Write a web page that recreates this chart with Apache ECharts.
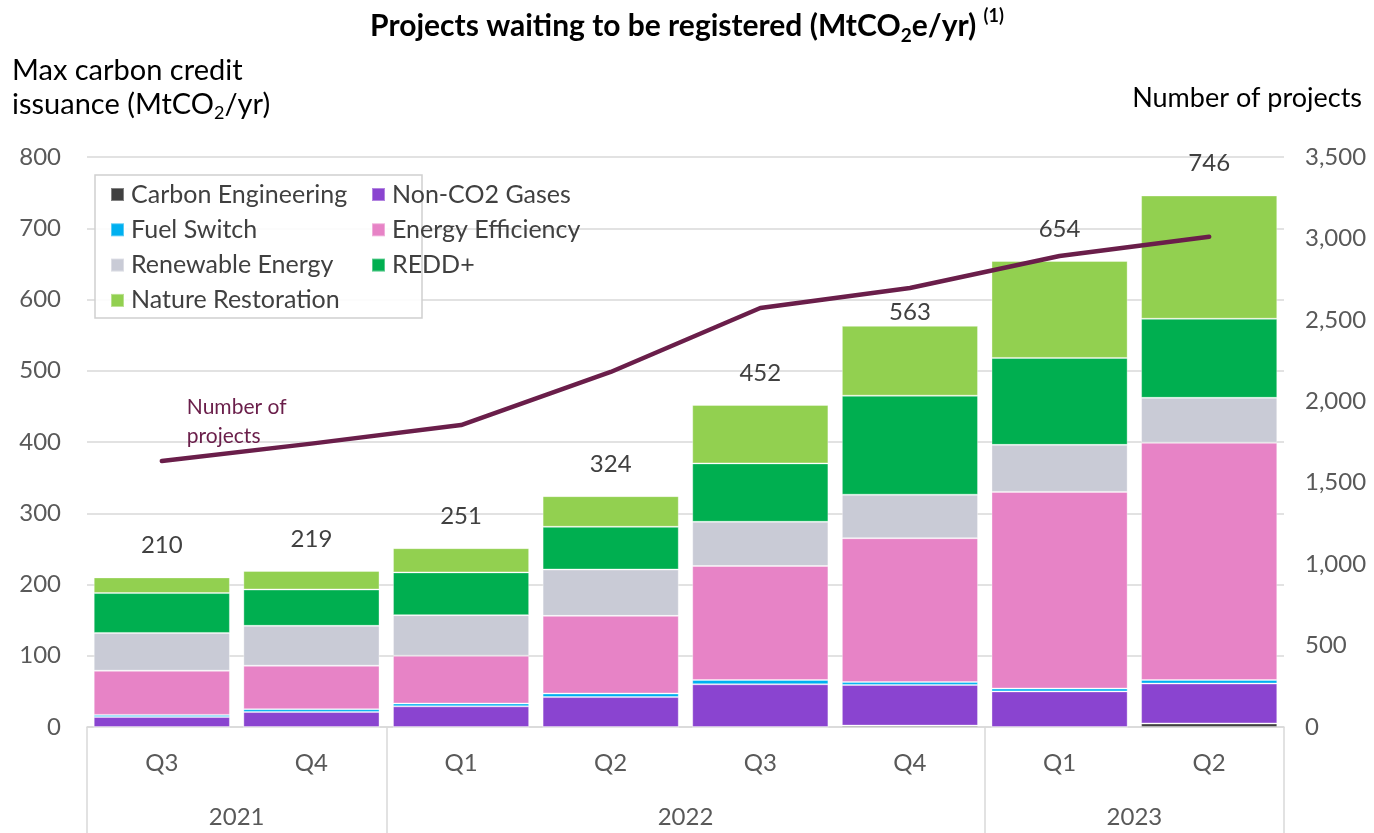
<!DOCTYPE html>
<html>
<head>
<meta charset="utf-8">
<title>Projects waiting to be registered</title>
<script src="https://cdn.jsdelivr.net/npm/echarts@6/dist/echarts.min.js"></script>
<style>
	html, body { margin: 0; padding: 0; background: #fff; }
	#chart { width: 1374px; height: 833px; }
</style>
</head>
<body>
<div id="chart"></div>
<script>
// quarters and years
const quarters = [ 'Q3', 'Q4', 'Q1', 'Q2', 'Q3', 'Q4', 'Q1', 'Q2' ];
const years = [ '2021', '2022', '2023' ];
const yearCenters = [ 1, 4, 7 ];     // middle of each year block, in category units
const yearEdges = [ 0, 2, 6, 8 ];    // borders between the year blocks

// MtCO2/yr per segment
const carbonEngineering = [ 0, 0, 0, 0, 0, 2, 0, 5 ];
const nonCO2Gases = [ 14, 21, 29, 42, 60, 57, 50, 56 ];
const fuelSwitch = [ 3, 4, 4, 5, 6, 4, 4, 5 ];
const energyEfficiency = [ 62, 61, 67, 109, 160, 202, 276, 333 ];
const renewableEnergy = [ 53, 56, 57, 65, 62, 61, 66, 63 ];
const redd = [ 56, 51, 60, 60, 82, 139, 122, 111 ];
const natureRestoration = [ 22, 26, 34, 43, 82, 98, 136, 173 ];
const totals = [ 210, 219, 251, 324, 452, 563, 654, 746 ];

// right axis
const numberOfProjects = [ 1633, 1740, 1854, 2180, 2573, 2696, 2892, 3010 ];

const font = 'Lato, "Liberation Sans", sans-serif';
const grey = '#595959';
const dark = '#404040';

const myChart = echarts.init( document.getElementById( 'chart' ) );

function barSeries( name, data, color ) {
	return {
		name: name,
		type: 'bar',
		stack: 'total',
		barCategoryGap: '9%',
		data: data,
		itemStyle: { color: color, borderColor: 'rgba(255,255,255,0.35)', borderWidth: 1 }
	};
}

// the 563 label sits lower, just under the line
const topData = natureRestoration.map( function ( v, i ) {
	return i === 5 ? { value: v, label: { distance: 2 } } : v;
} );

const series = [
	barSeries( 'Carbon Engineering', carbonEngineering, '#404040' ),
	barSeries( 'Non-CO2 Gases', nonCO2Gases, '#8A44D0' ),
	barSeries( 'Fuel Switch', fuelSwitch, '#00B0F0' ),
	barSeries( 'Energy Efficiency', energyEfficiency, '#E783C6' ),
	barSeries( 'Renewable Energy', renewableEnergy, '#C9CBD6' ),
	barSeries( 'REDD+', redd, '#00AF50' ),
	barSeries( 'Nature Restoration', topData, '#92D050' )
];
// totals above the stacks
series[6].label = {
	show: true,
	position: 'top',
	distance: 20,
	color: dark,
	fontFamily: font,
	fontSize: 24,
	formatter: function ( p ) { return totals[p.dataIndex]; }
};

const lineData = numberOfProjects.map( function ( v, i ) {
	if ( i === 0 ) {
		return {
			value: v,
			label: {
				show: true,
				position: [ 25, -68 ],
				align: 'left',
				color: '#6A1E4A',
				fontFamily: font,
				fontSize: 21,
				lineHeight: 29,
				formatter: 'Number of\nprojects'
			}
		};
	}
	return v;
} );

series.push( {
	name: 'Number of projects',
	type: 'line',
	yAxisIndex: 1,
	data: lineData,
	symbol: 'circle',
	symbolSize: 0,
	z: 10,
	lineStyle: { color: '#6A1E4A', width: 4.5, cap: 'round', join: 'round' },
	itemStyle: { color: '#6A1E4A' }
} );

const legendText = {
	color: dark,
	fontFamily: font,
	fontSize: 25,
	lineHeight: 23,
	padding: [ 0, 0, 0, 2 ]
};

const options = {
	animation: false,
	textStyle: { fontFamily: font },
	title: [
		{
			left: 'center',
			top: 2,
			text: '{a|Projects waiting to be registered (MtCO}{s|2}{a|e/yr) }{p|(1)}',
			textStyle: {
				rich: {
					a: { fontFamily: font, fontSize: 30, fontWeight: 'bold', color: '#000', lineHeight: 38 },
					s: { fontFamily: font, fontSize: 19, fontWeight: 'bold', color: '#000', verticalAlign: 'bottom', lineHeight: 30 },
					p: { fontFamily: font, fontSize: 18, fontWeight: 'bold', color: '#000', verticalAlign: 'top', lineHeight: 32 }
				}
			}
		},
		{
			left: 7,
			top: 49,
			text: '{a|Max carbon credit}\n{a|issuance (MtCO}{s|2}{a|/yr)}',
			textStyle: {
				fontWeight: 'normal',
				rich: {
					a: { fontFamily: font, fontSize: 29, fontWeight: 'normal', color: '#000', lineHeight: 34 },
					s: { fontFamily: font, fontSize: 18, fontWeight: 'normal', color: '#000', verticalAlign: 'bottom', lineHeight: 26 }
				}
			}
		},
		{
			right: 7,
			top: 80,
			text: 'Number of projects',
			textStyle: { fontFamily: font, fontSize: 27, fontWeight: 'normal', color: '#000' }
		}
	],
	legend: [
		{
			left: 105,
			top: 177,
			orient: 'vertical',
			icon: 'rect',
			itemWidth: 13,
			itemHeight: 13,
			itemGap: 10.3,
			selectedMode: false,
			textStyle: legendText,
			data: [ 'Carbon Engineering', 'Fuel Switch', 'Renewable Energy', 'Nature Restoration' ]
		},
		{
			left: 366,
			top: 177,
			orient: 'vertical',
			icon: 'rect',
			itemWidth: 13,
			itemHeight: 13,
			itemGap: 10.3,
			selectedMode: false,
			textStyle: legendText,
			data: [ 'Non-CO2 Gases', 'Energy Efficiency', 'REDD+' ]
		}
	],
	graphic: [
		{
			type: 'rect',
			shape: { x: 95, y: 175, width: 327, height: 143 },
			style: { fill: 'rgba(255,255,255,0.9)', stroke: '#D0D0D0', lineWidth: 1.5 },
			z: 1
		}
	],
	grid: { left: 87, right: 90, top: 157, bottom: 106 },
	xAxis: [
		{
			type: 'category',
			data: quarters,
			axisLine: { lineStyle: { color: '#D9D9D9', width: 1.5 } },
			axisTick: { show: false },
			axisLabel: { color: grey, fontFamily: font, fontSize: 24, margin: 24, interval: 0 }
		},
		{
			// year row and the year separators
			type: 'value',
			position: 'bottom',
			min: 0,
			max: 8,
			axisLine: { show: false },
			axisTick: {
				show: true,
				customValues: yearEdges,
				length: 106,
				lineStyle: { color: '#D9D9D9', width: 1.5 }
			},
			splitLine: { show: false },
			axisLabel: {
				customValues: yearCenters,
				color: grey,
				fontFamily: font,
				fontSize: 24,
				margin: 78,
				formatter: function ( v ) { return years[yearCenters.indexOf( v )]; }
			}
		}
	],
	yAxis: [
		{
			type: 'value',
			min: 0,
			max: 800,
			interval: 100,
			axisLine: { show: false },
			axisTick: { show: false },
			splitLine: { lineStyle: { color: '#D9D9D9', width: 1.5 } },
			axisLabel: { color: grey, fontFamily: font, fontSize: 24, margin: 26 }
		},
		{
			type: 'value',
			min: 0,
			max: 3500,
			interval: 500,
			axisLine: { show: false },
			axisTick: { show: false },
			splitLine: { show: false },
			axisLabel: {
				color: grey,
				fontFamily: font,
				fontSize: 24,
				margin: 21,
				formatter: function ( v ) { return v.toLocaleString( 'en-US' ); }
			}
		}
	],
	series: series
};

myChart.setOption( options );
</script>
</body>
</html>
